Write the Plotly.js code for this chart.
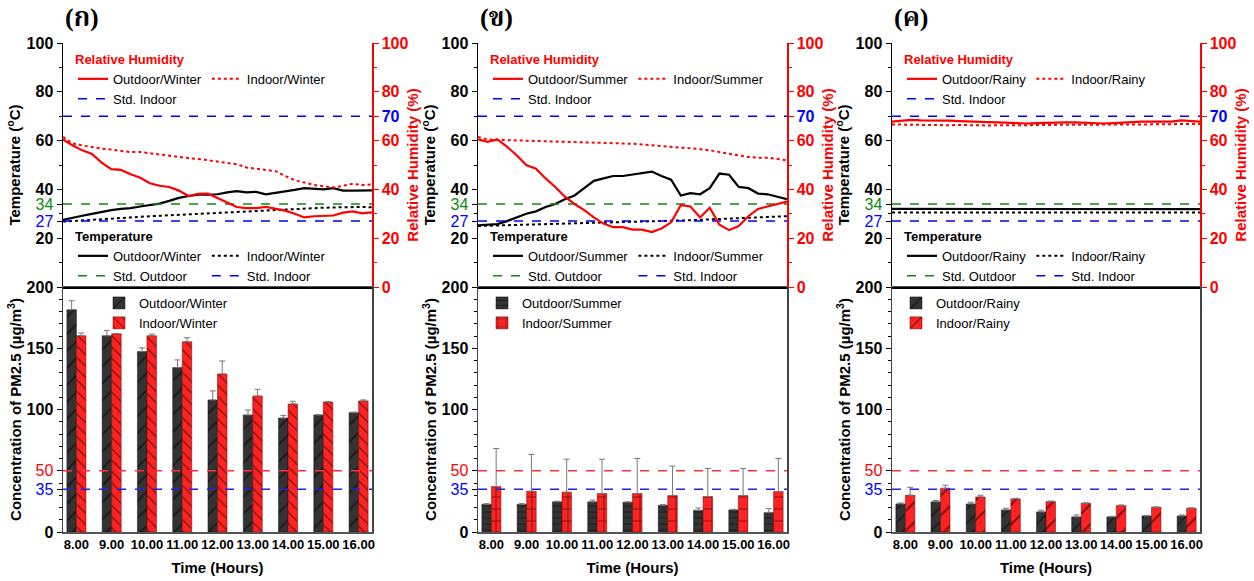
<!DOCTYPE html>
<html><head><meta charset="utf-8">
<script src="https://cdn.plot.ly/plotly-3.0.1.min.js"></script>
<style>html,body{margin:0;padding:0;background:#fff}#chart{width:1254px;height:581px}</style>
</head><body><div id="chart"></div>
<script>
// ---------- data ----------
const panelLabels = ['(ก)', '(ข)', '(ค)'];
const seasons = ['Winter', 'Summer', 'Rainy'];
const hours = ['8.00','9.00','10.00','11.00','12.00','13.00','14.00','15.00','16.00'];
const times = [8,8.25,8.5,8.75,9,9.25,9.5,9.75,10,10.25,10.5,10.75,11,11.25,11.5,11.75,12,12.25,12.5,12.75,13,13.25,13.5,13.75,14,14.25,14.5,14.75,15,15.25,15.5,15.75,16];

const tempOutWinter = [27.5,28.5,29.2,30.0,30.8,31.5,32.0,32.3,33.0,33.5,34.2,35.3,36.5,37.3,37.8,37.8,38.0,38.8,39.3,38.8,39.0,38.0,38.5,39.0,39.8,40.5,40.3,40.0,40.5,39.5,39.5,39.7,39.6];
const tempInWinter  = [26.8,27.0,27.3,27.5,27.8,28.0,28.3,28.5,28.8,29.0,29.2,29.5,29.7,29.9,30.1,30.3,30.5,30.7,30.9,31.0,31.2,31.4,31.6,31.8,32.0,32.1,32.3,32.5,32.6,32.7,32.8,32.8,32.7];
const rhOutWinter   = [60.5,58.0,56.0,54.5,51.0,48.3,48.0,46.2,44.8,42.5,41.5,41.0,39.5,37.3,38.2,38.3,36.5,34.5,32.8,32.3,32.3,32.8,32.0,31.3,30.0,28.5,29.0,29.3,29.3,30.5,31.0,30.2,30.6];
const rhInWinter    = [61.5,58.8,58.0,57.3,56.7,56.3,55.8,55.3,55.3,54.8,54.0,53.5,53.3,52.8,52.5,52.0,51.5,51.0,50.3,49.0,48.5,48.3,47.5,45.5,43.8,42.8,41.8,41.3,40.8,41.5,42.3,41.8,42.0];

const tempOutSummer = [25.3,25.5,25.8,27.0,28.5,30.0,31.0,32.8,34.0,36.0,37.5,40.5,43.5,44.5,45.5,45.5,46.0,46.5,47.3,45.5,44.0,37.5,38.5,38.0,40.5,46.5,46.0,41.0,40.5,38.3,38.0,37.0,36.0];
const tempInSummer  = [25.0,25.1,25.2,25.4,25.5,25.6,25.8,25.9,26.0,26.1,26.2,26.3,26.4,26.5,26.6,26.7,26.8,26.9,27.0,27.0,27.1,27.2,27.3,27.5,27.7,27.9,28.1,28.3,28.4,28.6,28.7,28.9,29.0];
const rhOutSummer   = [60.5,59.5,60.5,57.5,54.0,50.0,48.5,44.5,41.0,37.0,34.0,31.5,28.5,26.0,24.5,24.5,23.5,23.5,22.5,24.0,26.5,33.5,33.0,28.5,32.5,25.5,23.3,25.0,29.0,32.0,33.0,34.0,35.0];
const rhInSummer    = [61.5,60.5,60.3,60.2,60.0,59.8,59.7,59.6,59.5,59.5,59.5,59.4,59.3,59.2,59.0,58.8,58.7,58.4,58.1,57.8,57.5,57.3,57.0,56.5,56.0,55.3,54.8,54.0,53.3,53.0,53.0,52.5,51.8];

const tempOutRainy  = [32.0,32.0,32.0,31.9,31.9,31.9,32.0,31.9,31.9,31.9,31.9,31.9,31.9,31.8,31.8,31.9,31.9,31.9,31.9,31.9,31.9,31.9,31.9,31.9,31.9,31.9,31.9,31.9,31.9,31.9,31.9,31.9,31.9];
const tempInRainy   = [30.5,30.5,30.5,30.5,30.5,30.4,30.4,30.5,30.5,30.5,30.4,30.4,30.4,30.4,30.5,30.5,30.5,30.5,30.5,30.5,30.5,30.5,30.5,30.5,30.5,30.5,30.5,30.5,30.5,30.5,30.5,30.5,30.5];
const rhOutRainy    = [67.8,68.2,68.5,68.3,68.3,68.5,68.2,68.0,67.8,67.5,67.6,67.5,67.3,67.0,67.0,67.2,67.4,67.3,67.5,67.5,67.3,67.2,67.0,67.2,67.5,67.6,67.8,67.8,67.7,67.8,68.3,68.0,67.8];
const rhInRainy     = [66.6,66.5,66.4,66.5,66.4,66.4,66.3,66.4,66.3,66.3,66.2,66.3,66.2,66.2,66.3,66.4,66.4,66.5,66.5,66.5,66.5,66.4,66.4,66.5,66.5,66.6,66.6,66.6,66.6,66.7,66.8,66.8,66.8];

const stdTempOutdoor = 34;
const stdTempIndoor = 27;
const stdRhIndoor = 70;
const stdPmNational = 50;
const stdPmIndoor = 35;

const pmOutWinter    = [181.4,160.2,147.3,134.2,107.8,95.5,93.0,95.5,97.4];
const pmOutWinterErr = [7.4,4.4,3.0,6.3,7.4,4.1,2.2,0.3,0.5];
const pmInWinter     = [160.2,161.8,160.2,155.3,129.0,111.0,104.5,106.1,107.0];
const pmInWinterErr  = [2.2,0.3,1.4,3.3,10.6,5.5,2.2,0.3,0.8];

const pmOutSummer    = [22.6,22.6,24.6,24.6,24.3,21.8,17.7,18.0,15.8];
const pmOutSummerErr = [0.5,0.5,0.5,1.4,0.3,0.5,1.9,0.5,3.3];
const pmInSummer     = [37.1,33.3,32.5,31.4,31.4,29.7,28.9,29.7,33.0];
const pmInSummerErr  = [31.1,30.0,27.0,28.0,28.6,24.1,22.9,22.1,27.0];

const pmOutRainy     = [22.9,24.6,22.9,18.0,16.4,12.3,12.3,13.1,13.1];
const pmOutRainyErr  = [0.8,1.1,1.4,1.4,1.4,1.6,0.5,0.3,0.8];
const pmInRainy      = [30.0,35.7,28.6,27.0,24.8,23.5,21.6,20.2,19.4];
const pmInRainyErr   = [6.5,2.5,1.4,0.5,0.5,0.3,0.5,0.3,0.3];

// ---------- build ----------
const panels = [
  {tOut: tempOutWinter, tIn: tempInWinter, rOut: rhOutWinter, rIn: rhInWinter,
   pOut: pmOutWinter, pOutE: pmOutWinterErr, pIn: pmInWinter, pInE: pmInWinterErr,
   outPat: '/', inPat: '\\', outSize: 12, inSize: 8},
  {tOut: tempOutSummer, tIn: tempInSummer, rOut: rhOutSummer, rIn: rhInSummer,
   pOut: pmOutSummer, pOutE: pmOutSummerErr, pIn: pmInSummer, pInE: pmInSummerErr,
   outPat: '-', inPat: '+', outSize: 6, inSize: 12},
  {tOut: tempOutRainy, tIn: tempInRainy, rOut: rhOutRainy, rIn: rhInRainy,
   pOut: pmOutRainy, pOutE: pmOutRainyErr, pIn: pmInRainy, pInE: pmInRainyErr,
   outPat: '/', inPat: '/', outSize: 10, inSize: 14}
];

const W = 1254, H = 581;
const F = 'Liberation Sans, Arial, sans-serif';
const colPx = [[63,372],[478,787],[892,1200]];
const topPx = [43,287], botPx = [287,532];
const fx = v => v / W;
const fy = v => 1 - v / H;
const topDom = [fy(topPx[1]), fy(topPx[0])];
const botDom = [fy(botPx[1]), fy(botPx[0])];
const RED = '#ff0000', BLUE = '#0000ff', GREEN = '#118811';
const tEnds = [times[0], times[times.length - 1]];

const sfx = n => (n === 1 ? '' : String(n));
const bold = s => '<b>' + s + '</b>';
const col = (s, c) => '<span style="color:' + c + '">' + s + '</span>';

const traces = [];
const layout = {
  width: W, height: H,
  margin: {l: 0, r: 0, t: 0, b: 0},
  paper_bgcolor: '#fff', plot_bgcolor: 'rgba(0,0,0,0)',
  font: {family: F, color: '#000'},
  barmode: 'group', bargap: 0.46, bargroupgap: 0,
  showlegend: true,
  annotations: [], shapes: []
};

panels.forEach((p, i) => {
  const season = seasons[i];
  const xT = 2 * i + 1, xB = 2 * i + 2;
  const yT = 3 * i + 1, yR = 3 * i + 2, yB = 3 * i + 3;
  const lgR = 'legend' + sfx(3 * i + 1), lgT = 'legend' + sfx(3 * i + 2), lgB = 'legend' + sfx(3 * i + 3);
  const xdom = [fx(colPx[i][0]), fx(colPx[i][1])];

  // top x (time)
  layout['xaxis' + sfx(xT)] = {
    domain: xdom, anchor: 'y' + sfx(yT), range: tEnds, showgrid: false, zeroline: false,
    showline: true, linecolor: '#000', linewidth: 1.5, ticks: '', showticklabels: false, automargin: false
  };
  // temperature axis
  layout['yaxis' + sfx(yT)] = {
    domain: topDom, anchor: 'x' + sfx(xT), range: [0, 100], showgrid: false, zeroline: false,
    showline: true, linecolor: '#000', linewidth: 1.5,
    tickmode: 'array', tickvals: [20, stdTempIndoor, stdTempOutdoor, 40, 60, 80, 100],
    ticktext: [bold('20'), col(String(stdTempIndoor), BLUE), col(String(stdTempOutdoor), GREEN), bold('40'), bold('60'), bold('80'), bold('100')],
    ticks: 'outside', ticklen: 5, tickwidth: 1, tickcolor: '#000',
    minor: {tickvals: [10, 30, 50, 70, 90], ticks: 'outside', ticklen: 3, tickcolor: '#000'},
    tickfont: {family: F, size: 16, color: '#000'}, automargin: false,
    title: {text: bold('Temperature (<sup>o</sup>C)'), font: {family: F, size: 15, color: '#000'}, standoff: 2}
  };
  // RH axis
  layout['yaxis' + sfx(yR)] = {
    overlaying: 'y' + sfx(yT), side: 'right', anchor: 'x' + sfx(xT), range: [0, 100],
    showgrid: false, zeroline: false, showline: true, linecolor: RED, linewidth: 1.5,
    tickmode: 'array', tickvals: [0, 20, 40, 60, stdRhIndoor, 80, 100],
    ticktext: [bold('0'), bold('20'), bold('40'), bold('60'), bold(col(String(stdRhIndoor), BLUE)), bold('80'), bold('100')],
    ticks: 'outside', ticklen: 5, tickwidth: 1, tickcolor: RED,
    minor: {tickvals: [10, 30, 50, 90], ticks: 'outside', ticklen: 3, tickcolor: RED},
    tickfont: {family: F, size: 16, color: RED}, automargin: false,
    title: {text: bold('Relative Humidity (%)'), font: {family: F, size: 15, color: RED}, standoff: 0}
  };
  // bottom x (categories)
  layout['xaxis' + sfx(xB)] = {
    domain: xdom, anchor: 'y' + sfx(yB), type: 'category', range: [-0.38, 8.38],
    showgrid: false, zeroline: false, showline: true, linecolor: '#555', linewidth: 1.5, mirror: true,
    ticks: '', tickfont: {family: F, size: 13, color: '#000'}, automargin: false,
    tickvals: hours, ticktext: hours.map(bold),
    title: {text: bold('Time (Hours)'), font: {family: F, size: 15, color: '#000'}, standoff: 11}
  };
  // PM axis
  layout['yaxis' + sfx(yB)] = {
    domain: botDom, anchor: 'x' + sfx(xB), range: [0, 200], showgrid: false, zeroline: false,
    showline: true, linecolor: '#444', linewidth: 1.5, mirror: true,
    tickmode: 'array', tickvals: [0, stdPmIndoor, stdPmNational, 100, 150, 200],
    ticktext: [bold('0'), col(String(stdPmIndoor), BLUE), col(String(stdPmNational), RED), bold('100'), bold('150'), bold('200')],
    ticks: 'outside', ticklen: 5, tickwidth: 1, tickcolor: '#000',
    minor: {dtick: 10, ticks: 'outside', ticklen: 3, tickcolor: '#000'},
    tickfont: {family: F, size: 16, color: '#000'}, automargin: false,
    title: {text: bold('Concentration of PM2.5 (µg/m<sup>3</sup>)'), font: {family: F, size: 15, color: '#000'}, standoff: 1}
  };

  const xa = 'x' + sfx(xT), ya = 'y' + sfx(yT), yr = 'y' + sfx(yR);
  const gA = 'g' + i + 'a', gB = 'g' + i + 'b', gC = 'g' + i + 'c', gD = 'g' + i + 'd';
  // RH lines
  traces.push({type: 'scatter', mode: 'lines', x: times, y: p.rOut, xaxis: xa, yaxis: yr, name: 'Outdoor/' + season,
    line: {color: RED, width: 2.2}, legend: lgR, legendgroup: gA});
  traces.push({type: 'scatter', mode: 'lines', x: times, y: p.rIn, xaxis: xa, yaxis: yr, name: 'Indoor/' + season,
    line: {color: RED, width: 2, dash: 'dot'}, legend: lgR, legendgroup: gB});
  traces.push({type: 'scatter', mode: 'lines', x: tEnds, y: [stdRhIndoor, stdRhIndoor], xaxis: xa, yaxis: yr, name: 'Std. Indoor',
    line: {color: BLUE, width: 1.5, dash: 'dash'}, legend: lgR, legendgroup: gA});
  // temperature lines
  traces.push({type: 'scatter', mode: 'lines', x: times, y: p.tOut, xaxis: xa, yaxis: ya, name: 'Outdoor/' + season,
    line: {color: '#000', width: 2.2}, legend: lgT, legendgroup: gC});
  traces.push({type: 'scatter', mode: 'lines', x: times, y: p.tIn, xaxis: xa, yaxis: ya, name: 'Indoor/' + season,
    line: {color: '#000', width: 2, dash: 'dot'}, legend: lgT, legendgroup: gD});
  traces.push({type: 'scatter', mode: 'lines', x: tEnds, y: [stdTempOutdoor, stdTempOutdoor], xaxis: xa, yaxis: ya, name: 'Std. Outdoor',
    line: {color: GREEN, width: 1.5, dash: 'dash'}, legend: lgT, legendgroup: gC});
  traces.push({type: 'scatter', mode: 'lines', x: tEnds, y: [stdTempIndoor, stdTempIndoor], xaxis: xa, yaxis: ya, name: 'Std. Indoor',
    line: {color: BLUE, width: 1.5, dash: 'dash'}, legend: lgT, legendgroup: gD});

  // bars
  const xb = 'x' + sfx(xB), yb = 'y' + sfx(yB);
  traces.push({type: 'bar', x: hours, y: p.pOut, xaxis: xb, yaxis: yb, name: 'Outdoor/' + season, legend: lgB,
    marker: {color: '#333333', line: {color: '#111', width: 0.5},
      pattern: {shape: p.outPat, fgcolor: '#000', size: p.outSize, solidity: 0.15, fillmode: 'overlay'}},
    error_y: {type: 'data', symmetric: false, array: p.pOutE, arrayminus: p.pOutE.map(() => 0), color: '#777', thickness: 1, width: 3}});
  traces.push({type: 'bar', x: hours, y: p.pIn, xaxis: xb, yaxis: yb, name: 'Indoor/' + season, legend: lgB,
    marker: {color: '#ff2222', line: {color: '#600', width: 0.5},
      pattern: {shape: p.inPat, fgcolor: '#000', size: p.inSize, solidity: 0.15, fillmode: 'overlay'}},
    error_y: {type: 'data', symmetric: false, array: p.pInE, arrayminus: p.pInE.map(() => 0), color: '#777', thickness: 1, width: 3}});

  // PM standard lines
  layout.shapes.push({type: 'line', xref: xb + ' domain', yref: yb, x0: 0, x1: 1, y0: stdPmNational, y1: stdPmNational,
    line: {color: '#ff3333', width: 1.5, dash: 'dash'}});
  layout.shapes.push({type: 'line', xref: xb + ' domain', yref: yb, x0: 0, x1: 1, y0: stdPmIndoor, y1: stdPmIndoor,
    line: {color: '#2222dd', width: 1.5, dash: 'dash'}});

  // legends
  const lx = fx(colPx[i][0] + 10);
  layout[lgR] = {x: lx, y: fy(47), xanchor: 'left', yanchor: 'top', orientation: 'h', traceorder: 'grouped',
    bgcolor: 'rgba(0,0,0,0)', tracegroupgap: 0, itemwidth: 30,
    font: {family: F, size: 13, color: '#000'},
    title: {text: bold('Relative Humidity'), side: 'top', font: {family: F, size: 13, color: RED}}};
  layout[lgT] = {x: lx, y: fy(224), xanchor: 'left', yanchor: 'top', orientation: 'h', traceorder: 'grouped',
    bgcolor: 'rgba(0,0,0,0)', tracegroupgap: 0, itemwidth: 30,
    font: {family: F, size: 13, color: '#000'},
    title: {text: bold('Temperature'), side: 'top', font: {family: F, size: 13, color: '#000'}}};
  const bx = i === 0 ? colPx[i][0] + 36 : colPx[i][0] + 4;
  layout[lgB] = {x: fx(bx), y: fy(288), xanchor: 'left', yanchor: 'top', orientation: 'v',
    bgcolor: 'rgba(0,0,0,0)', itemwidth: 30, tracegroupgap: 0,
    font: {family: F, size: 13, color: '#000'}};

  // panel label
  layout.annotations.push({text: bold(panelLabels[i]), xref: 'paper', yref: 'paper', x: fx(colPx[i][0]), y: fy(18),
    xanchor: 'left', yanchor: 'middle', showarrow: false,
    font: {family: 'Liberation Serif, DejaVu Serif, Noto Serif Thai, Noto Sans Thai, serif', size: 26, color: '#000'}});
});

Plotly.newPlot('chart', traces, layout, {displayModeBar: false, staticPlot: true});
</script>
</body></html>
